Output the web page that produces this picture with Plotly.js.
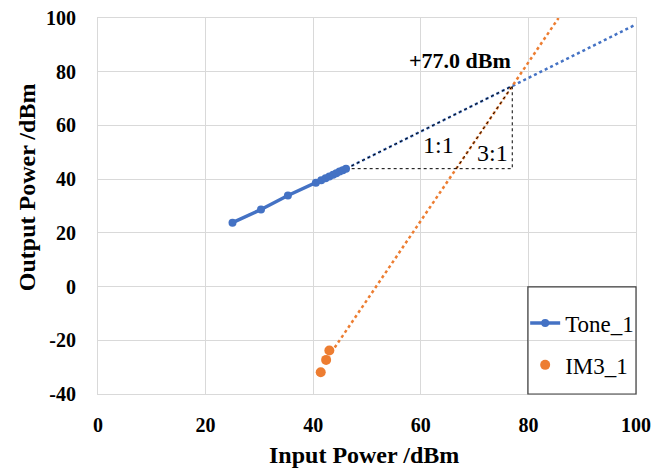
<!DOCTYPE html>
<html>
<head>
<meta charset="utf-8">
<script src="https://cdn.plot.ly/plotly-3.0.1.min.js"></script>
<style>html,body{margin:0;padding:0;background:#fff;}#chart{width:657px;height:473px;}</style>
</head>
<body>
<div id="chart"></div>
<script>
// Measured data
const toneX = [25.0, 30.3, 35.3, 40.5, 41.5, 42.3, 43.0, 43.7, 44.3, 44.9, 45.5, 46.1];
const toneY = [23.8, 28.7, 33.9, 38.7, 39.6, 40.3, 41.0, 41.6, 42.2, 42.8, 43.3, 43.9];
const im3X = [41.4, 42.4, 43.0];
const im3Y = [-31.9, -27.3, -23.8];
// Trendlines (extrapolations)
const toneTrendX = [46.1, 100];
const toneTrendY = [43.9, 97.6];
const im3TrendX = [44.0, 85.6];
const im3TrendY = [-22.7, 100];
// Slope triangle guide lines
const oneX = [46.1, 77.0, 77.0, 46.1];
const oneY = [43.9, 74.7, 43.9, 43.9];
const threeX = [66.6, 77.0];
const threeY = [43.9, 74.7];
const ip3Label = "+77.0 dBm";
// Tick labels
const xTicks = [0, 20, 40, 60, 80, 100];
const xTickText = ["0", "20", "40", "60", "80", "100"];
const yTicks = [-40, -20, 0, 20, 40, 60, 80, 100];
const yTickText = ["-40", "-20", "0", "20", "40", "60", "80", "100"];

const serif = "Liberation Serif";
const data = [
  {x: toneTrendX, y: toneTrendY, mode: 'lines', line: {color: '#4472C4', width: 2.5, dash: 'dot'}, showlegend: false, hoverinfo: 'skip'},
  {x: im3TrendX, y: im3TrendY, mode: 'lines', line: {color: '#ED7D31', width: 2.5, dash: 'dot'}, showlegend: false, hoverinfo: 'skip'},
  {x: oneX, y: oneY, mode: 'lines', line: {color: '#000', width: 1, dash: 'dot'}, showlegend: false, hoverinfo: 'skip'},
  {x: threeX, y: threeY, mode: 'lines', line: {color: '#000', width: 1, dash: 'dot'}, showlegend: false, hoverinfo: 'skip'},
  {x: toneX, y: toneY, name: 'Tone_1', mode: 'lines+markers', line: {color: '#4472C4', width: 3.5}, marker: {color: '#4472C4', size: 8}, legendgroup: 'a'},
  {x: im3X, y: im3Y, name: 'IM3_1', mode: 'markers', marker: {color: '#ED7D31', size: 10}, legendgroup: 'b'}
];
const layout = {
  width: 657, height: 473,
  margin: {l: 98, r: 21, t: 18, b: 79},
  paper_bgcolor: '#fff', plot_bgcolor: '#fff',
  font: {family: serif, color: '#000'},
  xaxis: {range: [0, 100], tickmode: 'array', tickvals: xTicks, ticktext: xTickText, showgrid: true, gridcolor: '#d9d9d9', gridwidth: 1,
    zeroline: false, showline: true, linecolor: '#d9d9d9', mirror: true, ticks: '', ticklabelstandoff: 13,
    tickfont: {family: serif, size: 20, color: '#000', weight: 'bold'}},
  yaxis: {range: [-40, 100], tickmode: 'array', tickvals: yTicks, ticktext: yTickText, showgrid: true, gridcolor: '#d9d9d9', gridwidth: 1,
    zeroline: false, showline: true, linecolor: '#d9d9d9', mirror: true, ticks: '', ticklabelstandoff: 17,
    tickfont: {family: serif, size: 20, color: '#000', weight: 'bold'}},
  legend: {x: 0.794, xanchor: 'left', y: 0.246, yanchor: 'top', bgcolor: 'rgba(0,0,0,0)', borderwidth: 0,
    font: {family: serif, size: 23, color: '#000'}, traceorder: 'grouped', tracegroupgap: 9, itemwidth: 30},
  shapes: [
    {type: 'rect', xref: 'paper', yref: 'paper', x0: 0.799, x1: 1.0, y0: 0, y1: 0.285, line: {color: '#404040', width: 1.2}, fillcolor: 'rgba(0,0,0,0)'}
  ],
  annotations: [
    {xref: 'paper', yref: 'paper', x: 0.495, y: -0.163, yanchor: 'middle', text: '<b>Input Power /dBm</b>', showarrow: false, font: {family: serif, size: 24, color: '#000'}},
    {xref: 'paper', yref: 'paper', x: -0.132, y: 0.55, xanchor: 'center', text: '<b>Output Power /dBm</b>', textangle: -90, showarrow: false, font: {family: serif, size: 24, color: '#000'}},
    {x: 67.2, y: 84.0, text: '<b>' + ip3Label + '</b>', showarrow: false, font: {family: serif, size: 22, color: '#000'}},
    {x: 63.2, y: 52.9, text: '1:1', showarrow: false, font: {family: serif, size: 24, color: '#000'}},
    {x: 73.4, y: 49.6, text: '3:1', showarrow: false, font: {family: serif, size: 24, color: '#000'}}
  ]
};
Plotly.newPlot('chart', data, layout, {displayModeBar: false, staticPlot: true});
</script>
</body>
</html>
